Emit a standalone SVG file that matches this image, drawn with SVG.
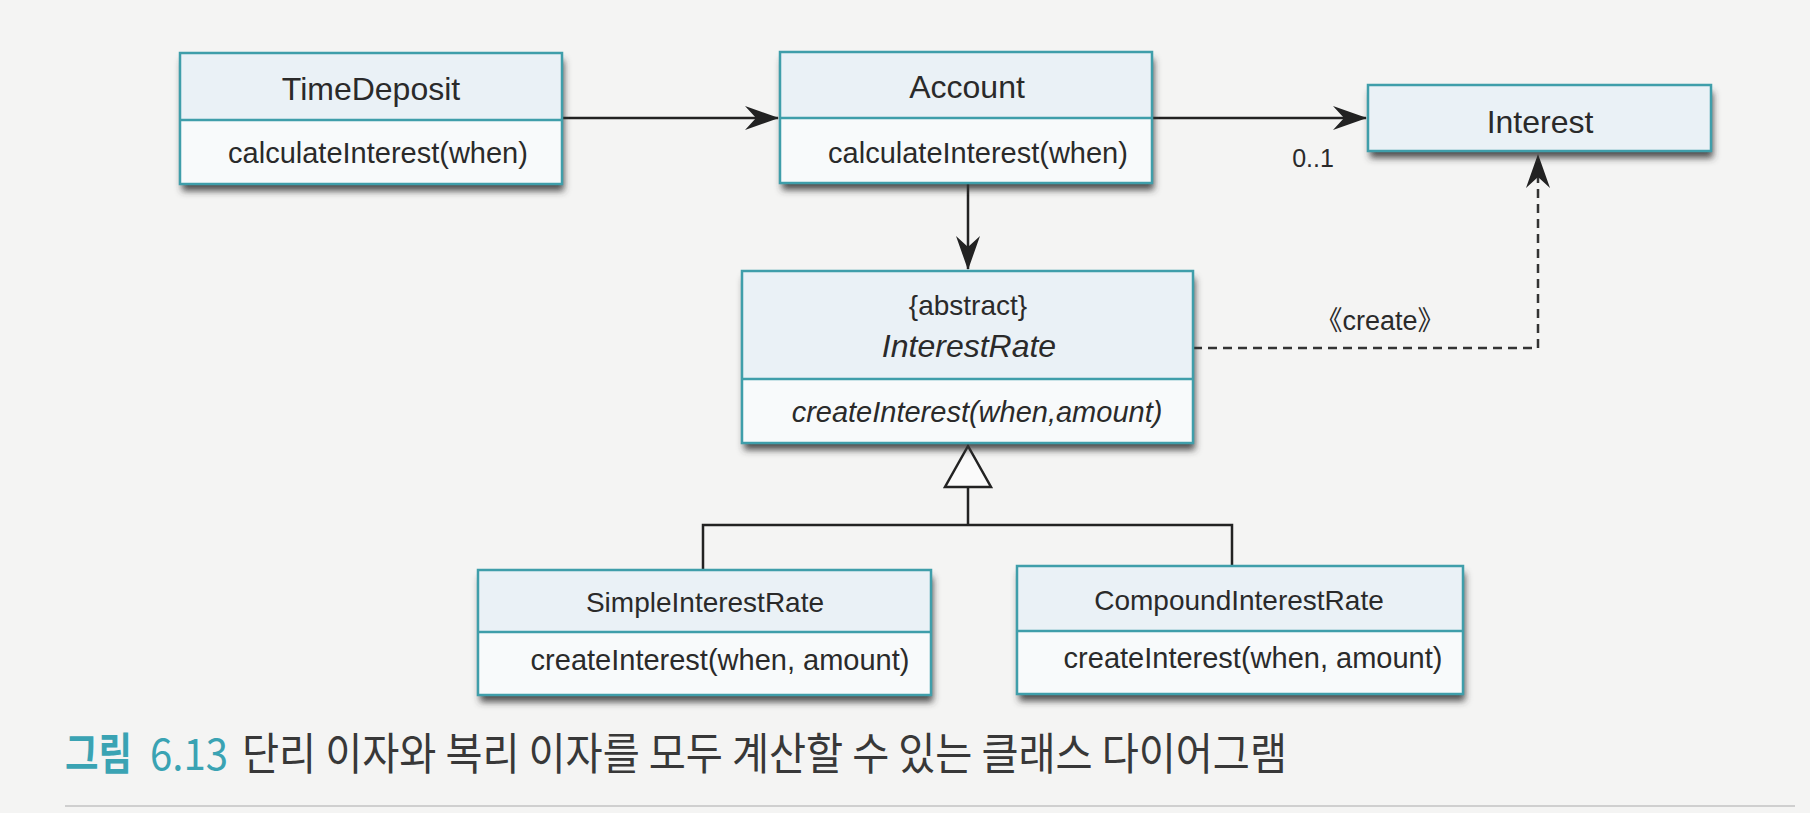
<svg xmlns="http://www.w3.org/2000/svg" width="1810" height="813" viewBox="0 0 1810 813">
  <style>
    .bg { fill: #f4f4f3; }
    .hdr { fill: #eaf1f6; stroke: none; }
    .bdy { fill: #f8fafb; stroke: none; }
    .frame { fill: none; stroke: #3f9eaa; stroke-width: 2.5; }
    .div { stroke: #3f9eaa; stroke-width: 2.5; }
    .t { font-family: "Liberation Sans", Arial, sans-serif; fill: #2a2a2a; text-anchor: middle; }
    .title { font-size: 32px; }
    .sub { font-size: 28px; }
    .meth { font-size: 29px; }
    .it { font-style: italic; }
    .line { fill: none; stroke: #222; stroke-width: 2.5; }
    .dash { fill: none; stroke: #333; stroke-width: 2.5; stroke-dasharray: 9 6; }
    .lbl { font-family: "Liberation Sans", "Noto Sans CJK KR", sans-serif; fill: #2a2a2a; text-anchor: middle; }
    .cap { font-family: "Noto Sans CJK KR", "Noto Sans", sans-serif; font-size: 44px; }
  </style>
  <defs>
    <filter id="sh" x="-10%" y="-20%" width="120%" height="160%">
      <feDropShadow dx="2" dy="7" stdDeviation="3.5" flood-color="#333333" flood-opacity="0.85"/>
    </filter>
    <marker id="arrow" viewBox="0 0 34 24" refX="33" refY="12" markerWidth="34" markerHeight="24" markerUnits="userSpaceOnUse" orient="auto">
      <path d="M0,0 L34,12 L0,24 L11,12 Z" fill="#222" stroke="none"/>
    </marker>
  </defs>

  <rect class="bg" x="0" y="0" width="1810" height="813"/>

  <g id="connectors">
    <line class="line" x1="562" y1="118" x2="778" y2="118" marker-end="url(#arrow)"/>
    <line class="line" x1="1152" y1="118" x2="1366" y2="118" marker-end="url(#arrow)"/>
    <line class="line" x1="968" y1="183" x2="968" y2="269" marker-end="url(#arrow)"/>
    <polyline class="dash" points="1193,348 1538,348 1538,155" marker-end="url(#arrow)"/>
    <polyline class="line" points="703,570 703,525 1232,525 1232,566"/>
    <line class="line" x1="968" y1="525" x2="968" y2="487"/>
    <polygon points="968,446 945,487 991,487" fill="#fafafa" stroke="#222" stroke-width="2.5" stroke-linejoin="miter"/>
    <text class="lbl" x="1313" y="167" font-size="25">0..1</text>
    <text class="lbl" x="1380" y="330" font-size="27">《create》</text>
  </g>

  <g id="TimeDeposit">
    <g filter="url(#sh)">
      <rect class="hdr" x="180" y="53" width="382" height="67"/>
      <rect class="bdy" x="180" y="120" width="382" height="64"/>
    </g>
    <rect class="frame" x="180" y="53" width="382" height="131"/>
    <line class="div" x1="180" y1="120" x2="562" y2="120"/>
    <text class="t title" x="371" y="100">TimeDeposit</text>
    <text class="t meth" x="378" y="163">calculateInterest(when)</text>
  </g>

  <g id="Account">
    <g filter="url(#sh)">
      <rect class="hdr" x="780" y="52" width="372" height="66"/>
      <rect class="bdy" x="780" y="118" width="372" height="65"/>
    </g>
    <rect class="frame" x="780" y="52" width="372" height="131"/>
    <line class="div" x1="780" y1="118" x2="1152" y2="118"/>
    <text class="t title" x="967" y="98">Account</text>
    <text class="t meth" x="978" y="163">calculateInterest(when)</text>
  </g>

  <g id="Interest">
    <rect class="hdr" x="1368" y="85" width="343" height="66" filter="url(#sh)"/>
    <rect class="frame" x="1368" y="85" width="343" height="66"/>
    <text class="t title" x="1540" y="133">Interest</text>
  </g>

  <g id="InterestRate">
    <g filter="url(#sh)">
      <rect class="hdr" x="742" y="271" width="451" height="108"/>
      <rect class="bdy" x="742" y="379" width="451" height="64"/>
    </g>
    <rect class="frame" x="742" y="271" width="451" height="172"/>
    <line class="div" x1="742" y1="379" x2="1193" y2="379"/>
    <text class="t sub" x="968" y="315">{abstract}</text>
    <text class="t title it" x="969" y="357">InterestRate</text>
    <text class="t meth it" x="977" y="422">createInterest(when,amount)</text>
  </g>

  <g id="SimpleInterestRate">
    <g filter="url(#sh)">
      <rect class="hdr" x="478" y="570" width="453" height="62"/>
      <rect class="bdy" x="478" y="632" width="453" height="63"/>
    </g>
    <rect class="frame" x="478" y="570" width="453" height="125"/>
    <line class="div" x1="478" y1="632" x2="931" y2="632"/>
    <text class="t sub" x="705" y="612">SimpleInterestRate</text>
    <text class="t meth" x="720" y="670">createInterest(when, amount)</text>
  </g>

  <g id="CompoundInterestRate">
    <g filter="url(#sh)">
      <rect class="hdr" x="1017" y="566" width="446" height="65"/>
      <rect class="bdy" x="1017" y="631" width="446" height="63"/>
    </g>
    <rect class="frame" x="1017" y="566" width="446" height="128"/>
    <line class="div" x1="1017" y1="631" x2="1463" y2="631"/>
    <text class="t sub" x="1239" y="610">CompoundInterestRate</text>
    <text class="t meth" x="1253" y="668">createInterest(when, amount)</text>
  </g>

  <g id="caption">
    <text class="cap" x="65" y="770" fill="#3aa3b3" font-weight="bold" textLength="67" lengthAdjust="spacingAndGlyphs">그림</text>
    <text class="cap" x="150" y="770" fill="#3aa3b3" textLength="78" lengthAdjust="spacingAndGlyphs">6.13</text>
    <text class="cap" x="242" y="770" fill="#383838" textLength="1045" lengthAdjust="spacingAndGlyphs">단리 이자와 복리 이자를 모두 계산할 수 있는 클래스 다이어그램</text>
    <line x1="65" y1="806" x2="1795" y2="806" stroke="#cfcfcf" stroke-width="2"/>
  </g>
</svg>
